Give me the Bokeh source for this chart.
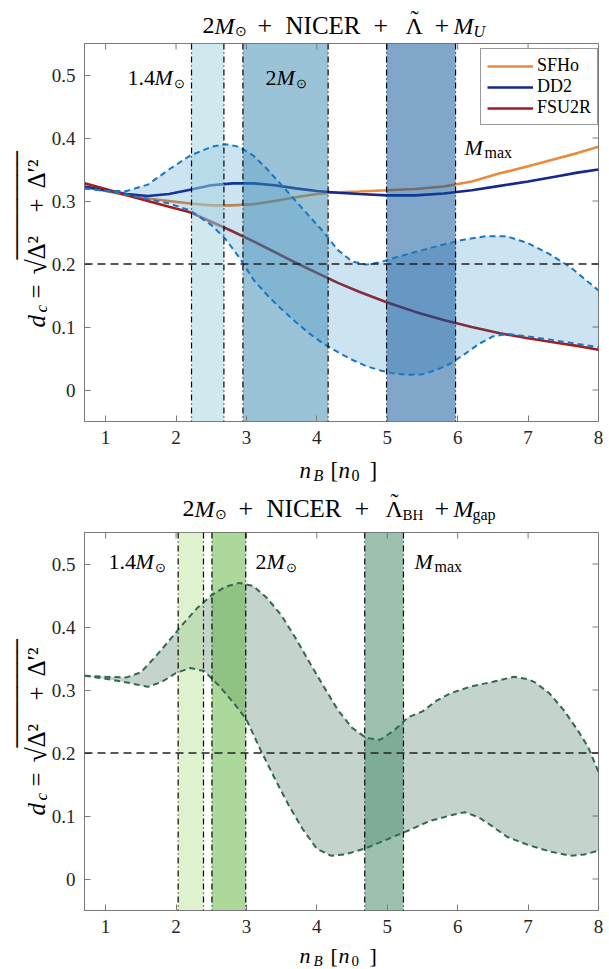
import numpy as np
from bokeh.plotting import figure
from bokeh.models import Range1d, FixedTicker, Span, Label, Legend, LegendItem
from bokeh.layouts import column, row
from bokeh.embed import file_html
from bokeh.resources import INLINE

# ---------------- data ----------------
X_TICKS = [1, 2, 3, 4, 5, 6, 7, 8]
Y_TICKS = [0, 0.1, 0.2, 0.3, 0.4, 0.5]
Y_TICK_LABELS = ["0", "0.1", "0.2", "0.3", "0.4", "0.5"]
X_LIM = (0.7, 8.0)
Y_LIM = (-0.05, 0.55)
D_CRIT = 0.2

curve_x = [0.7, 1.0, 1.3, 1.6, 1.9, 2.2, 2.5, 2.8, 3.1, 3.4, 3.7, 4.0, 4.3, 4.6,
           5.0, 5.4, 5.8, 6.2, 6.6, 7.0, 7.4, 7.7, 8.0]
sfho_y = [0.322, 0.316, 0.309, 0.304, 0.300, 0.296, 0.293, 0.293, 0.295, 0.300, 0.306,
          0.311, 0.314, 0.315, 0.317, 0.319, 0.323, 0.331, 0.344, 0.355, 0.367, 0.376, 0.386]
dd2_y = [0.323, 0.317, 0.311, 0.308, 0.311, 0.318, 0.325, 0.328, 0.328, 0.325, 0.320,
         0.316, 0.313, 0.311, 0.309, 0.309, 0.312, 0.317, 0.324, 0.331, 0.339, 0.345, 0.350]
fsu2r_y = [0.328, 0.319, 0.309, 0.300, 0.291, 0.282, 0.267, 0.252, 0.236, 0.219, 0.202,
           0.186, 0.170, 0.156, 0.139, 0.124, 0.111, 0.100, 0.090, 0.082, 0.075, 0.070, 0.064]
model_names = ["SFHo", "DD2", "FSU2R"]

top_up_x = [0.7, 1.0, 1.3, 1.6, 1.9, 2.2, 2.5, 2.7, 2.9, 3.1, 3.3, 3.5, 3.7, 3.9, 4.1,
            4.3, 4.5, 4.7, 4.9, 5.2, 5.5, 5.8, 6.1, 6.4, 6.7, 7.0, 7.3, 7.6, 8.0]
top_up_y = [0.320, 0.316, 0.316, 0.326, 0.350, 0.372, 0.386, 0.390, 0.386, 0.372, 0.350,
            0.325, 0.300, 0.275, 0.250, 0.222, 0.204, 0.199, 0.203, 0.213, 0.222, 0.231,
            0.239, 0.244, 0.244, 0.233, 0.216, 0.195, 0.158]
top_lo_x = [0.7, 1.0, 1.3, 1.6, 1.9, 2.2, 2.5, 2.7, 2.9, 3.1, 3.3, 3.5, 3.7, 3.9, 4.1,
            4.3, 4.5, 4.7, 4.9, 5.1, 5.3, 5.5, 5.7, 5.9, 6.1, 6.3, 6.5, 6.7, 7.0, 7.3,
            7.6, 8.0]
top_lo_y = [0.320, 0.316, 0.310, 0.303, 0.296, 0.285, 0.262, 0.240, 0.210, 0.175, 0.150,
            0.128, 0.108, 0.089, 0.073, 0.060, 0.048, 0.038, 0.031, 0.026, 0.024, 0.025,
            0.032, 0.042, 0.057, 0.073, 0.085, 0.089, 0.085, 0.080, 0.075, 0.068]
top_bands_left = [2.22, 2.95, 4.99]
top_bands_right = [2.68, 4.16, 5.97]

bot_up_x = [0.7, 1.0, 1.3, 1.5, 1.7, 1.9, 2.1, 2.3, 2.5, 2.7, 2.9, 3.1, 3.3, 3.5, 3.7,
            3.9, 4.1, 4.3, 4.5, 4.7, 4.9, 5.1, 5.3, 5.5, 5.7, 5.9, 6.2, 6.5, 6.8, 7.0,
            7.1, 7.3, 7.5, 7.7, 7.85, 8.0]
bot_up_y = [0.3225, 0.321, 0.320, 0.328, 0.352, 0.378, 0.405, 0.430, 0.450, 0.464, 0.470,
            0.465, 0.445, 0.418, 0.382, 0.343, 0.305, 0.268, 0.240, 0.224, 0.221, 0.236,
            0.257, 0.266, 0.283, 0.295, 0.306, 0.313, 0.321, 0.317, 0.312, 0.295, 0.269,
            0.237, 0.210, 0.170]
bot_lo_x = [0.7, 1.0, 1.3, 1.6, 1.8, 2.0, 2.2, 2.4, 2.6, 2.8, 3.0, 3.2, 3.4, 3.6, 3.8,
            4.0, 4.2, 4.4, 4.7, 5.0, 5.3, 5.6, 5.9, 6.1, 6.3, 6.5, 6.7, 7.0, 7.3, 7.6,
            7.8, 8.0]
bot_lo_y = [0.3225, 0.318, 0.312, 0.305, 0.313, 0.327, 0.335, 0.330, 0.308, 0.282, 0.253,
            0.205, 0.160, 0.117, 0.079, 0.048, 0.037, 0.039, 0.049, 0.063, 0.077, 0.092,
            0.101, 0.106, 0.098, 0.083, 0.067, 0.054, 0.044, 0.037, 0.039, 0.045]
bot_bands_left = [2.03, 2.51, 4.68]
bot_bands_right = [2.39, 2.99, 5.23]

# ---------------- style / layout ----------------
FONT = "Liberation Serif"
AX_COLOR = "#7a7a7a"
TXT = "#262626"
LINE_COLORS = ["#EA8A3C", "#14288F", "#A51C1F"]
TOP_BAND_COLORS = ["#A1D3DD", "#3587AF", "#014D95"]
BOT_BAND_COLORS = ["#BFE59D", "#5BB13A", "#398560"]

FULL_W = 606           # page x 0 .. 606
STRIP_W = 48           # y-label strip, page x 0 .. 48
BL, BR, BT, BB = 35, 9, 4, 33   # box: page x 83 .. 597
FRAME_W, FRAME_H = 514, 378
PXX = FRAME_W / (X_LIM[1] - X_LIM[0])
PXY = FRAME_H / (Y_LIM[1] - Y_LIM[0])
MAIN_H = BT + FRAME_H + BB


def canvas(w, h):
    c = figure(frame_width=w, frame_height=h, x_range=Range1d(0, w), y_range=Range1d(0, h),
               output_backend="svg", toolbar_location=None, frame_align=False,
               min_border=0, min_border_left=0, min_border_right=0, min_border_top=0,
               min_border_bottom=0,
               x_axis_location=None, y_axis_location=None, outline_line_color=None,
               background_fill_color="white", border_fill_color="white")
    c.grid.visible = False
    return c


def put(c, x, y, s, size, italic=False, angle=0.0, baseline="middle", font=FONT):
    c.add_layout(Label(x=x, y=y, text=s, text_font=font, text_font_size=f"{size}px",
                       text_font_style="italic" if italic else "normal",
                       text_align="left", text_baseline=baseline, angle=angle,
                       text_color="black"))


def make_main():
    p = figure(frame_width=FRAME_W, frame_height=FRAME_H,
               x_range=Range1d(*X_LIM), y_range=Range1d(*Y_LIM),
               output_backend="svg", toolbar_location=None, frame_align=False,
               min_border_left=BL, min_border_right=BR, min_border_top=BT, min_border_bottom=BB,
               background_fill_color="white", border_fill_color="white")
    p.grid.visible = False
    p.outline_line_color = AX_COLOR
    p.xaxis.ticker = FixedTicker(ticks=X_TICKS)
    p.yaxis.ticker = FixedTicker(ticks=Y_TICKS)
    p.yaxis.major_label_overrides = {t: s for t, s in zip(Y_TICKS, Y_TICK_LABELS)}
    for ax in p.axis:
        ax.axis_label = None
        ax.major_tick_in = 6
        ax.major_tick_out = 0
        ax.minor_tick_line_color = None
        ax.axis_line_color = AX_COLOR
        ax.major_tick_line_color = AX_COLOR
        ax.major_label_text_font = FONT
        ax.major_label_text_color = TXT
        ax.major_label_text_font_size = "19px"
    p.xaxis.major_label_standoff = 9
    p.yaxis.major_label_standoff = 9
    # mirrored ticks on the top and right edges of the box
    p.segment(x0=X_TICKS, y0=[Y_LIM[1]] * len(X_TICKS), x1=X_TICKS,
              y1=[Y_LIM[1] - 6 / PXY] * len(X_TICKS), line_color=AX_COLOR, line_width=1)
    p.segment(x0=[X_LIM[1]] * len(Y_TICKS), y0=Y_TICKS, x1=[X_LIM[1] - 6 / PXX] * len(Y_TICKS),
              y1=Y_TICKS, line_color=AX_COLOR, line_width=1)
    return p


def in_frame(p, ftop, px, py, s, size, italic=False):
    p.add_layout(Label(x=X_LIM[0] + (px - 83) / PXX, y=Y_LIM[1] - (py - ftop) / PXY,
                       text=s, text_font=FONT, text_font_size=f"{size}px",
                       text_font_style="italic" if italic else "normal",
                       text_align="left", text_baseline="middle", text_color="black"))


def mass_label(p, ftop, px, py, prefix):
    in_frame(p, ftop, px, py, prefix, 22)
    w = 11 * len(prefix) - (6 if "." in prefix else 0)
    in_frame(p, ftop, px + w, py, "M", 22, True)
    in_frame(p, ftop, px + w + 19, py + 6, "⊙", 13)


def mmax_label(p, ftop, px, py):
    in_frame(p, ftop, px, py, "M", 22, True)
    in_frame(p, ftop, px + 20, py + 5, "max", 16)


def band_panel(p, up_x, up_y, lo_x, lo_y, lefts, rights, band_colors, fill_col, fill_alpha, edge_col):
    p.patch(up_x + lo_x[::-1], up_y + lo_y[::-1], fill_color=fill_col, fill_alpha=fill_alpha,
            line_color=None)
    for l, r, c in zip(lefts, rights, band_colors):
        p.quad(left=l, right=r, bottom=Y_LIM[0], top=Y_LIM[1], fill_color=c, fill_alpha=0.5,
               line_color=None)
    p.line(up_x, up_y, line_color=edge_col, line_width=2, line_dash="6 4")
    p.line(lo_x, lo_y, line_color=edge_col, line_width=2, line_dash="6 4")
    for e in lefts + rights:
        p.add_layout(Span(location=e, dimension="height", line_color="black", line_width=1.2,
                          line_dash="6 3 1 3"))
    p.add_layout(Span(location=D_CRIT, dimension="width", line_color="#222222", line_width=1.3,
                      line_dash="8 5"))


def add_title(c, h, page_top, yc, pieces):
    for s, px, dyy, size, it in pieces:
        put(c, px, h - (yc + dyy - page_top), s, size, it)


def add_xlabel(c, h, page_top, ybase, size=23):
    sub = round(size * 0.68)
    for s, px, dyy, sz, it in [("n", 299, 0, size, True), ("B", 313, 5, sub, True),
                               ("[", 330, 0, size, False), ("n", 338, 0, size, True),
                               ("0", 351, 5, sub, False), ("]", 369, 0, size, False)]:
        put(c, px, h - (ybase + dyy - page_top), s, sz, it, baseline="alphabetic")


def ylabel_canvas(h, page_top, center):
    c = canvas(STRIP_W, h)
    a = np.pi / 2
    pieces = [("d", 95, 36, 25, True), ("c", 80, 41, 17, True), ("=", 66, 36, 25, False),
              ("√", 42, 36, 28, False), ("Δ²", 27, 36, 25, False), ("+", -20, 36, 25, False),
              ("Δ′²", -44, 36, 25, False)]
    for s, off, bx, size, it in pieces:
        put(c, bx, h - (center + off - page_top), s, size, it, angle=a, baseline="alphabetic")
    # vinculum of the square root
    put(c, 16, h - (center + 27 - page_top), "─" * 9, 20, angle=a, baseline="middle",
        font="DejaVu Sans Mono")
    return c


TITLE_TOP = [("2", 202, 0, 24, False), ("M", 214, 0, 24, True), ("⊙", 234, 6, 14, False),
             ("+", 257, 0, 26, False), ("NICER", 285, 0, 25, False),
             ("+", 373, 0, 26, False), ("Λ", 405, 0, 24, False), ("˜", 410, -7, 24, False),
             ("+", 434, 0, 26, False), ("M", 453, 0, 24, True), ("U", 473, 6, 16, True)]
TITLE_BOT = [("2", 182, 0, 24, False), ("M", 194, 0, 24, True), ("⊙", 214, 6, 14, False),
             ("+", 238, 0, 26, False), ("NICER", 266, 0, 25, False),
             ("+", 354, 0, 26, False), ("Λ", 385, 0, 24, False), ("˜", 390, -7, 24, False),
             ("BH", 402, 6, 15, False),
             ("+", 434, 0, 26, False), ("M", 453, 0, 24, True), ("gap", 472, 6, 16, False)]

# page rows: t1 | row(y1, p1) | mid (x-label 1 + title 2) | row(y2, p2) | x2
T1_TOP, T1_H = 0, 39
P1_TOP = T1_TOP + T1_H                # 39
FT1 = P1_TOP + BT                     # 43
MID_TOP = P1_TOP + MAIN_H             # 454
P2_TOP = 528
MID_H = P2_TOP - MID_TOP              # 74
FT2 = P2_TOP + BT                     # 532
X2_TOP = P2_TOP + MAIN_H              # 943
X2_H = 968 - X2_TOP                   # 25

# ---- top panel
t1 = canvas(FULL_W, T1_H)
add_title(t1, T1_H, T1_TOP, 25, TITLE_TOP)
p1 = make_main()
renders = []
for yy, col in zip([sfho_y, dd2_y, fsu2r_y], LINE_COLORS):
    renders.append(p1.line(curve_x, yy, line_color=col, line_width=2.6))
band_panel(p1, top_up_x, top_up_y, top_lo_x, top_lo_y, top_bands_left, top_bands_right,
           TOP_BAND_COLORS, "#0072BD", 0.2, "#1A78C2")
legend = Legend(items=[LegendItem(label=n, renderers=[r]) for n, r in zip(model_names, renders)],
                location=(396, 296), margin=0, padding=6, spacing=0, glyph_width=46,
                glyph_height=20, label_height=20, label_standoff=4,
                label_text_font=FONT, label_text_font_size="18px", label_text_color="black",
                border_line_color="#333333", border_line_width=1, background_fill_alpha=1.0)
p1.add_layout(legend)
mass_label(p1, FT1, 126, 77, "1.4")
mass_label(p1, FT1, 264, 77, "2")
mmax_label(p1, FT1, 463, 147)
y1 = ylabel_canvas(MAIN_H, P1_TOP, 232)

# ---- middle strip: x label of the top panel and title of the bottom panel
mid = canvas(FULL_W, MID_H)
add_xlabel(mid, MID_H, MID_TOP, 470)
add_title(mid, MID_H, MID_TOP, 508, TITLE_BOT)

# ---- bottom panel
p2 = make_main()
band_panel(p2, bot_up_x, bot_up_y, bot_lo_x, bot_lo_y, bot_bands_left, bot_bands_right,
           BOT_BAND_COLORS, "#3A6E56", 0.3, "#33694F")
mass_label(p2, FT2, 107, 561, "1.4")
mass_label(p2, FT2, 254, 561, "2")
mmax_label(p2, FT2, 413, 561)
y2 = ylabel_canvas(MAIN_H, P2_TOP, 720)

x2 = canvas(FULL_W, X2_H)
add_xlabel(x2, X2_H, X2_TOP, 955, size=22)

layout = column(t1, row(y1, p1), mid, row(y2, p2), x2)
open("out.html", "w").write(file_html(layout, INLINE))
